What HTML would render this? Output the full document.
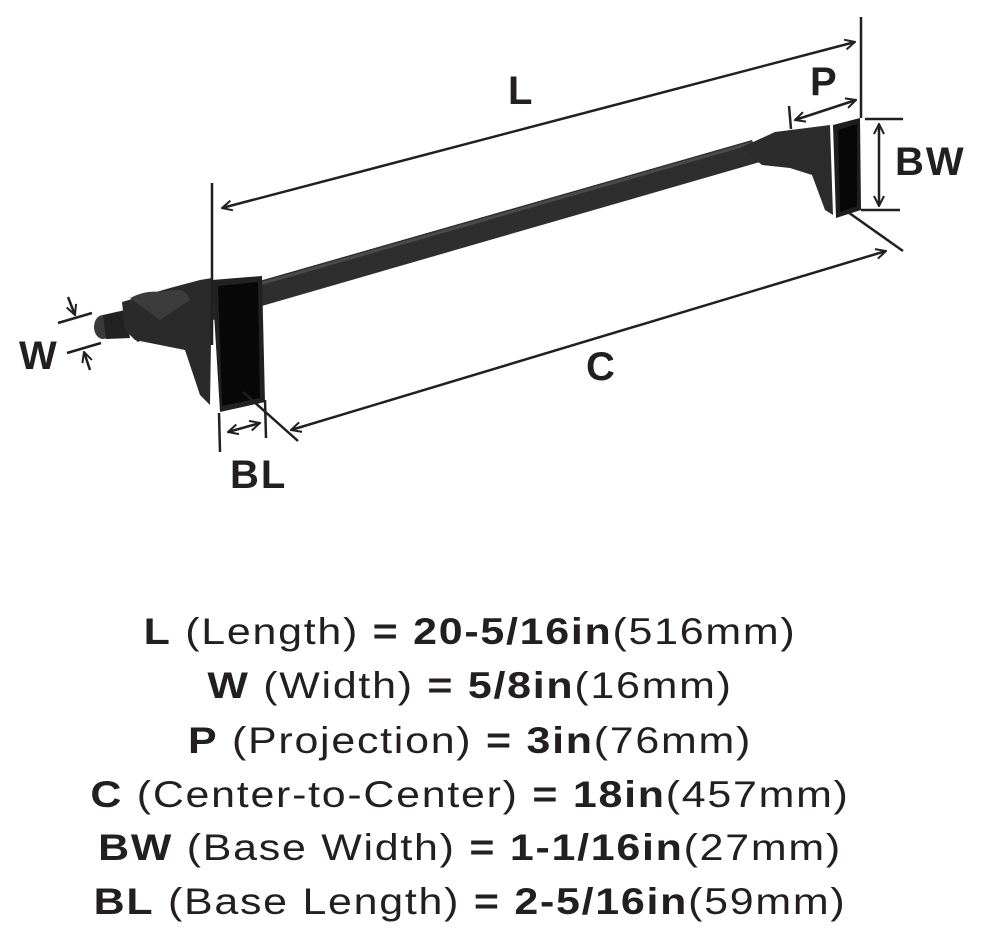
<!DOCTYPE html>
<html><head><meta charset="utf-8"><style>
html,body{margin:0;padding:0;background:#fff;}
body{width:990px;height:944px;position:relative;overflow:hidden;font-family:"Liberation Sans",sans-serif;color:#231f20;}
.t{position:absolute;left:0;width:940px;text-align:center;font-size:37px;line-height:40px;white-space:nowrap;letter-spacing:1.5px;transform:scaleX(1.16);transform-origin:470px 0;}
b{font-weight:bold;}
</style></head><body>
<svg width="990" height="520" style="position:absolute;left:0;top:0" xmlns="http://www.w3.org/2000/svg">
<defs><marker id="a" viewBox="0 0 12 12" refX="11" refY="6" markerWidth="12" markerHeight="12" markerUnits="userSpaceOnUse" orient="auto-start-reverse"><path d="M1 1 L11 6 L1 11" fill="none" stroke="#231f20" stroke-width="2"/></marker></defs>
<!-- rod -->
<path d="M130 318 L752 140 L760 162 L137 342 Z" fill="#2e2e2e"/>
<path d="M130 321 L752 143" stroke="#4a4a4a" stroke-width="3"/>
<!-- left end cap -->
<ellipse cx="103" cy="327" rx="9" ry="12" fill="#3a3a3a"/>
<path d="M103 315 L125 310 L130 338 L106 339 Z" fill="#222"/>
<path d="M122 302 L170 288 L200 280 L212 278 L210 405 L200 395 L185 350 L160 345 L135 340 L125 330 Z" fill="#2a2a2a"/>
<path d="M130 298 Q145 290 160 292 L175 290 Q185 288 190 300 L160 320 Z" fill="#3c3c3c"/>
<!-- left plate -->
<path d="M212 280 L262 276 L265 402 L220 412 Z" fill="#222"/>
<path d="M218 286 L258 282 L260 398 L222 406 Z" fill="#080808"/>
<!-- right bracket -->
<path d="M740 148 L775 132 L830 125 L833 215 L825 210 L812 175 L790 168 L762 165 Z" fill="#2c2c2c"/>
<path d="M833 125 L860 118 L861 210 L836 218 Z" fill="#1e1e1e"/>
<path d="M838 130 L857 124 L857 206 L840 212 Z" fill="#070707"/>
<g stroke="#231f20" stroke-width="2.5" fill="none">
<line x1="212" y1="183" x2="212" y2="345"/>
<line x1="861" y1="17" x2="861" y2="118"/>
<line x1="222" y1="208" x2="855" y2="42" marker-start="url(#a)" marker-end="url(#a)"/>
<line x1="789" y1="106" x2="791" y2="129"/>
<line x1="795" y1="120" x2="856" y2="100" marker-start="url(#a)" marker-end="url(#a)"/>
<line x1="865" y1="119" x2="903" y2="119"/>
<line x1="861" y1="210" x2="900" y2="210"/>
<line x1="879" y1="124" x2="879" y2="206" marker-start="url(#a)" marker-end="url(#a)"/>
<line x1="845" y1="210" x2="903" y2="251"/>
<line x1="243" y1="392" x2="298" y2="441"/>
<line x1="291" y1="430" x2="886" y2="251" marker-start="url(#a)" marker-end="url(#a)"/>
<line x1="219" y1="413" x2="220" y2="452"/>
<line x1="265" y1="400" x2="266" y2="438"/>
<line x1="228" y1="432" x2="260" y2="423" marker-start="url(#a)" marker-end="url(#a)"/>
<line x1="58" y1="323" x2="92" y2="313"/>
<line x1="67" y1="353" x2="101" y2="343"/>
<line x1="68" y1="297" x2="75" y2="315" marker-end="url(#a)"/>
<line x1="90" y1="370" x2="84" y2="352" marker-end="url(#a)"/>
</g>
<g font-family="Liberation Sans, sans-serif" font-size="40" fill="#231f20" font-weight="bold" letter-spacing="2">
<text x="508" y="104">L</text>
<text x="810" y="95">P</text>
<text x="895" y="175">BW</text>
<text x="586" y="380">C</text>
<text x="230" y="488">BL</text>
<text x="19" y="369">W</text>
</g>
</svg>
<div class="t" style="top:612px"><b>L</b> (Length) <b>= 20-5/16in</b>(516mm)</div>
<div class="t" style="top:666px"><b>W</b> (Width) <b>= 5/8in</b>(16mm)</div>
<div class="t" style="top:721px"><b>P</b> (Projection) <b>= 3in</b>(76mm)</div>
<div class="t" style="top:775px"><b>C</b> (Center-to-Center) <b>= 18in</b>(457mm)</div>
<div class="t" style="top:828px"><b>BW</b> (Base Width) <b>= 1-1/16in</b>(27mm)</div>
<div class="t" style="top:882px"><b>BL</b> (Base Length) <b>= 2-5/16in</b>(59mm)</div>
</body></html>
